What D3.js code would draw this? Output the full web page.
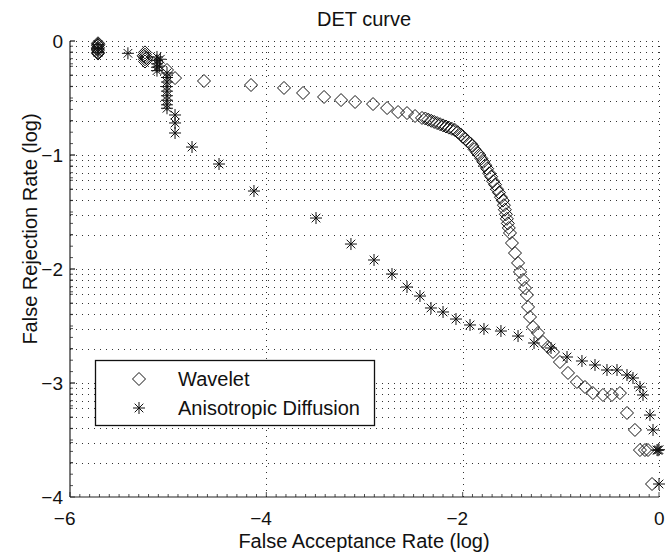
<!DOCTYPE html>
<html>
<head>
<meta charset="utf-8">
<script src="https://cdn.jsdelivr.net/npm/d3@7"></script>
<style>
  body { margin: 0; background: #fff; }
  text { font-family: "Liberation Sans", Arial, Helvetica, sans-serif; fill: #111; }
</style>
</head>
<body>
<div id="chart"></div>
<script>
// Wavelet curve (log FAR, log FRR)
const waveletX = [
  -5.715, -5.715, -5.715, -5.715, -5.715, -5.715, -5.712, -5.718,
  -5.236, -5.236, -5.236, -5.236, -5.236, -5.25, -5.22,
  -5.012, -4.93, -4.635, -4.156, -3.82, -3.626, -3.412, -3.239, -3.096,
  -2.913, -2.77, -2.658, -2.567, -2.485, -2.414,
  -2.38, -2.35, -2.32, -2.29, -2.26, -2.23, -2.20, -2.17, -2.14, -2.11, -2.08,
  -2.05, -2.02, -2.00, -1.97, -1.95, -1.92, -1.90, -1.88, -1.85, -1.83, -1.81,
  -1.79, -1.77, -1.75, -1.73, -1.71, -1.69, -1.67, -1.65, -1.63, -1.61, -1.59,
  -1.58, -1.57, -1.56, -1.55, -1.54, -1.53,
  -1.518, -1.498, -1.467, -1.436, -1.416, -1.385, -1.365, -1.345, -1.334,
  -1.314, -1.283, -1.233, -1.182, -1.131, -1.08, -1.009, -0.927, -0.836,
  -0.754, -0.673, -0.571, -0.479, -0.398, -0.326, -0.245, -0.194, -0.143,
  -0.112, -0.071
];
const waveletY = [
  -0.02, -0.04, -0.06, -0.08, -0.10, -0.11, -0.03, -0.07,
  -0.10, -0.12, -0.14, -0.16, -0.18, -0.13, -0.15,
  -0.254, -0.325, -0.351, -0.386, -0.412, -0.456, -0.491, -0.518, -0.535,
  -0.553, -0.588, -0.623, -0.632, -0.658, -0.675,
  -0.68, -0.69, -0.70, -0.71, -0.72, -0.73, -0.74, -0.75, -0.76, -0.77, -0.78,
  -0.80, -0.82, -0.84, -0.86, -0.88, -0.90, -0.92, -0.95, -0.98, -1.00, -1.03,
  -1.06, -1.09, -1.12, -1.16, -1.19, -1.23, -1.26, -1.30, -1.33, -1.37, -1.40,
  -1.44, -1.48, -1.52, -1.56, -1.60, -1.64,
  -1.684, -1.772, -1.86, -1.947, -2.026, -2.096, -2.167, -2.228, -2.333,
  -2.421, -2.509, -2.561, -2.64, -2.684, -2.728, -2.816, -2.912, -2.991,
  -3.035, -3.088, -3.105, -3.105, -3.088, -3.263, -3.412, -3.588, -3.588,
  -3.588, -3.886
];

// Anisotropic diffusion curve
const anisoX = [
  -5.715, -5.715, -5.715, -5.41,
  -5.114, -5.114, -5.114, -5.114, -5.114, -5.08, -5.09,
  -5.012, -5.012, -5.012, -5.012, -5.012, -5.012, -5.012, -5.012, -5.012,
  -4.93, -4.93, -4.93, -4.757, -4.482, -4.126, -3.494, -3.138, -2.903,
  -2.72, -2.567, -2.435, -2.323, -2.20, -2.068, -1.925, -1.783, -1.61,
  -1.436, -1.273, -1.10, -0.937, -0.785, -0.652, -0.53, -0.428, -0.326,
  -0.265, -0.194, -0.163, -0.092, -0.061, -0.02, -0.01, 0.0, 0.0
];
const anisoY = [
  -0.03, -0.07, -0.10, -0.108,
  -0.14, -0.17, -0.20, -0.23, -0.26, -0.16, -0.22,
  -0.28, -0.32, -0.36, -0.40, -0.44, -0.48, -0.52, -0.56, -0.59,
  -0.649, -0.719, -0.807, -0.93, -1.079, -1.316, -1.553, -1.781, -1.921,
  -2.044, -2.158, -2.237, -2.342, -2.377, -2.439, -2.491, -2.526, -2.544,
  -2.588, -2.649, -2.693, -2.772, -2.807, -2.842, -2.886, -2.886, -2.93,
  -2.956, -3.035, -3.105, -3.281, -3.412, -3.588, -3.59, -3.585, -3.886
];

const xTicks = [-6, -4, -2, 0];
const yTicks = [0, -1, -2, -3, -4];
const legendNames = ["Wavelet", "Anisotropic Diffusion"];

const width = 666, height = 554;
const x = d3.scaleLinear().domain([-6, 0]).range([70, 659]);
const y = d3.scaleLinear().domain([-4, 0]).range([497, 41]);

const svg = d3.select("#chart").append("svg")
  .attr("width", width).attr("height", height);

// grid: horizontal lines at decade + log minor positions
const hGrid = [];
for (let n = -4; n < 0; n++) {
  for (let k = 2; k <= 9; k++) hGrid.push(n + Math.log10(k));
}
yTicks.filter(v => v > -4).forEach(v => hGrid.push(v));

svg.append("g").selectAll("line.h")
  .data(hGrid).enter().append("line")
  .attr("x1", x(-6)).attr("x2", x(0))
  .attr("y1", d => Math.round(y(d)) + 0.5).attr("y2", d => Math.round(y(d)) + 0.5)
  .style("stroke", "#333").style("stroke-width", 1)
  .style("stroke-dasharray", "1,5").style("shape-rendering", "crispEdges");

svg.append("g").selectAll("line.v")
  .data(xTicks.filter(v => v > -6)).enter().append("line")
  .attr("x1", d => Math.round(x(d)) + 0.5).attr("x2", d => Math.round(x(d)) + 0.5)
  .attr("y1", y(-4)).attr("y2", y(0))
  .style("stroke", "#333").style("stroke-width", 1)
  .style("stroke-dasharray", "1,5").style("shape-rendering", "crispEdges");

// axes (left and bottom only, ticks inward)
const ax = svg.append("g");
ax.append("line").attr("x1", x(-6)).attr("x2", x(0)).attr("y1", y(-4)).attr("y2", y(-4))
  .style("stroke", "#222").style("stroke-width", 1.2);
ax.append("line").attr("x1", x(-6)).attr("x2", x(-6)).attr("y1", y(-4)).attr("y2", y(0))
  .style("stroke", "#222").style("stroke-width", 1.2);

const xMinor = d3.range(-60, 1).map(i => i / 10);
ax.selectAll("line.xm").data(xMinor).enter().append("line")
  .attr("x1", d => x(d)).attr("x2", d => x(d))
  .attr("y1", y(-4)).attr("y2", d => y(-4) - (xTicks.includes(d) ? 5 : 3))
  .style("stroke", "#222").style("stroke-width", 0.8);

const yMinor = d3.range(-40, 1).map(i => i / 10).concat(hGrid);
ax.selectAll("line.ym").data(yMinor).enter().append("line")
  .attr("x1", x(-6)).attr("x2", d => x(-6) + (yTicks.includes(d) ? 5 : 3))
  .attr("y1", d => y(d)).attr("y2", d => y(d))
  .style("stroke", "#222").style("stroke-width", 0.8);

const fmt = v => (v < 0 ? "\u2212" : "") + Math.abs(v);

ax.selectAll("text.xt").data(xTicks).enter().append("text")
  .attr("x", d => x(d) + 5.5).attr("y", 525)
  .attr("text-anchor", "end").style("font-size", "19px")
  .text(fmt);

ax.selectAll("text.yt").data(yTicks).enter().append("text")
  .attr("x", 63).attr("y", d => y(d)).attr("dy", "0.36em")
  .attr("text-anchor", "end").style("font-size", "19px")
  .text(fmt);

svg.append("text").attr("x", 364).attr("y", 26).attr("text-anchor", "middle")
  .style("font-size", "20px").text("DET curve");
svg.append("text").attr("x", 364).attr("y", 548).attr("text-anchor", "middle")
  .style("font-size", "20px").text("False Acceptance Rate (log)");
svg.append("text").attr("transform", "translate(37,229) rotate(-90)")
  .attr("text-anchor", "middle").style("font-size", "20px")
  .text("False Rejection Rate (log)");

// markers
function diamond(g, r) {
  g.append("path").attr("d", `M0,${-r}L${r},0L0,${r}L${-r},0Z`)
    .style("fill", "none").style("stroke", "#111").style("stroke-width", 1);
}
function asterisk(g, r) {
  const a = r * 0.72;
  g.append("path")
    .attr("d", `M${-r},0L${r},0M0,${-r}L0,${r}M${-a},${-a}L${a},${a}M${-a},${a}L${a},${-a}`)
    .style("fill", "none").style("stroke", "#111").style("stroke-width", 1);
}

const wavelet = waveletX.map((v, i) => ({ x: v, y: waveletY[i] }));
const aniso = anisoX.map((v, i) => ({ x: v, y: anisoY[i] }));

svg.append("g").selectAll("g").data(wavelet).enter().append("g")
  .attr("transform", d => `translate(${x(d.x)},${y(d.y)})`)
  .each(function() { diamond(d3.select(this), 6.5); });

svg.append("g").selectAll("g").data(aniso).enter().append("g")
  .attr("transform", d => `translate(${x(d.x)},${y(d.y)})`)
  .each(function() { asterisk(d3.select(this), 6); });

// legend
const lg = svg.append("g");
lg.append("rect").attr("x", 95.5).attr("y", 360.5).attr("width", 279).attr("height", 65)
  .style("fill", "#fff").style("stroke", "#111").style("stroke-width", 1.3);
const rows = lg.selectAll("g.row").data(legendNames).enter().append("g")
  .attr("transform", (d, i) => `translate(139,${379 + i * 29})`);
rows.each(function(d, i) {
  if (i === 0) diamond(d3.select(this), 6.5); else asterisk(d3.select(this), 6);
});
rows.append("text").attr("x", 39).attr("dy", "0.36em")
  .style("font-size", "20px").text(d => d);
</script>
</body>
</html>
